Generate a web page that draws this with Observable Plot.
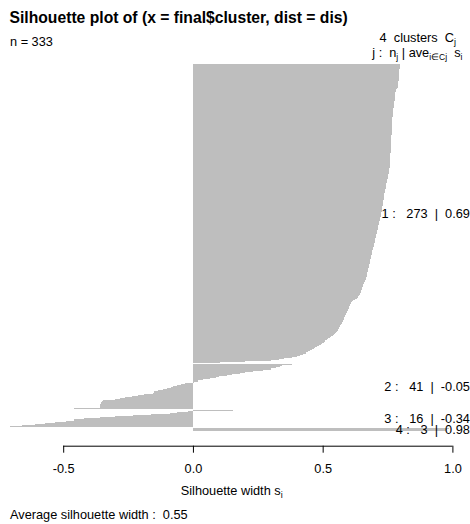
<!DOCTYPE html>
<html>
<head>
<meta charset="utf-8">
<script src="https://cdn.jsdelivr.net/npm/d3@7"></script>
<script src="https://cdn.jsdelivr.net/npm/@observablehq/plot@0.6"></script>
<style>
html, body { margin: 0; padding: 0; background: #fff; }
body { width: 470px; height: 524px; overflow: hidden; font-family: "Liberation Sans", Arial, sans-serif; color: #000; }
#chart figure { margin: 0; padding: 0; }
#chart svg { display: block; }
.ttl { margin: 0; height: 32px; box-sizing: border-box; padding: 3px 0 0 9.5px; font: bold 15.7px/29px "Liberation Sans", Arial, sans-serif; white-space: pre; }
.sub { margin: 0; height: 17px; box-sizing: border-box; padding: 1px 14px 0 10px; font: 12.75px/18px "Liberation Sans", Arial, sans-serif; display: flex; justify-content: space-between; white-space: pre; }
.sub .r { position: relative; top: -4px; }
.sub sub { font-size: 9px; line-height: 0; vertical-align: -3px; }
.cap { margin: 0; height: 24px; box-sizing: border-box; padding: 5px 0 0 10px; font: 12.75px/20px "Liberation Sans", Arial, sans-serif; white-space: pre; }
</style>
</head>
<body>
<div id="chart"></div>
<script>
// ---- data ----
const titleText = "Silhouette plot of (x = final$cluster, dist = dis)";
const clusterIds = [1, 2, 3, 4];
const clusterAvg = [0.69, -0.05, -0.34, 0.98];
const avgWidth = 0.55;
const xTicks = [-0.5, 0.0, 0.5, 1.0];

const sil1 = [
  0.799,0.798,0.798,0.797,0.797,0.796,0.796,0.796,0.795,0.795,0.795,0.794,0.794,0.793,0.793,0.793,0.792,0.792,0.791,0.791,0.790,
  0.789,0.786,0.784,0.782,0.781,0.780,0.780,0.779,0.779,0.778,0.778,0.777,0.777,0.776,0.776,0.775,0.775,0.774,0.774,0.773,0.773,0.772,0.772,0.771,0.771,
  0.770,0.770,0.770,0.769,0.769,0.769,0.769,0.768,0.768,0.768,0.768,0.767,0.767,0.767,0.767,0.766,0.766,0.766,0.766,0.765,0.765,0.765,0.765,0.764,
  0.764,0.764,0.764,0.763,0.763,0.763,0.763,0.762,0.762,0.762,0.762,0.761,0.761,0.761,0.761,0.761,0.760,0.760,0.760,0.760,0.760,0.760,
  0.759,0.758,0.758,0.757,0.756,0.755,0.755,0.754,0.753,0.752,
  0.752,0.751,0.750,0.749,0.749,0.748,0.747,0.746,0.746,0.745,
  0.744,0.743,0.742,0.741,0.740,0.739,0.738,0.737,0.737,0.736,
  0.735,0.735,0.734,0.733,0.733,0.732,0.731,0.731,0.730,0.730,0.729,
  0.728,0.727,0.726,0.725,0.725,0.724,0.723,0.722,0.721,0.720,
  0.719,0.718,0.717,0.716,0.715,0.714,0.713,0.712,0.711,0.710,
  0.709,0.708,0.707,0.706,0.705,0.704,0.703,0.702,0.701,0.700,
  0.699,0.698,0.697,0.696,0.695,0.694,0.693,0.692,0.691,0.690,
  0.689,0.688,0.687,0.686,0.685,0.684,
  0.683,0.682,0.681,0.680,0.679,0.678,0.677,0.676,0.675,0.674,
  0.673,0.672,0.671,0.670,0.669,0.668,0.667,0.666,0.664,0.662,
  0.660,0.658,0.656,0.655,0.653,0.652,0.650,0.649,0.648,0.646,
  0.644,0.642,0.640,0.637,0.633,0.625,0.615,0.612,0.610,0.608,
  0.606,0.604,0.602,0.600,0.599,0.597,0.595,0.593,0.591,0.589,
  0.587,0.585,0.583,0.581,0.580,0.578,0.576,0.573,0.570,0.567,0.565,0.563,0.562,
  0.560,0.556,0.552,0.548,0.543,0.538,0.533,0.528,0.522,0.516,
  0.510,0.504,0.498,0.492,0.486,0.479,0.472,0.465,0.458,
  0.452,0.445,0.436,0.425,0.412,0.400,0.380,0.350,0.330,0.300,0.200,0.105
];
const sil2 = [
  0.380,0.345,0.336,0.320,0.300,0.270,0.230,0.200,0.180,0.150,0.130,0.100,0.090,0.065,0.040,0.020,0.005,
  -0.030,-0.045,-0.060,-0.075,-0.085,-0.100,-0.115,-0.135,-0.150,-0.155,-0.190,-0.210,-0.235,-0.260,-0.280,-0.300,
  -0.345,-0.350,-0.355,-0.357,-0.358,-0.359,-0.360,-0.460
];
const sil3 = [0.155,-0.020,-0.060,-0.090,-0.160,-0.230,-0.300,-0.360,-0.420,-0.460,-0.490,-0.530,-0.570,-0.610,-0.660,-0.705];
const sil4 = [0.985,0.980,0.975];

const silByCluster = [sil1, sil2, sil3, sil4];

// ---- build bar table (R barplot: width 1, space 0.5 between clusters) ----
const bars = [];
const labels = [];
let pos = 0;
silByCluster.forEach((vals, k) => {
  if (k > 0) pos += 0.5;
  const start = pos;
  vals.forEach(s => { bars.push({cluster: clusterIds[k], s, y1: pos, y2: pos + 1}); pos += 1; });
  const nb = "\u00A0";
  labels.push({
    y: (start + pos) / 2,
    text: `${clusterIds[k]}${nb}:${nb}${nb}${nb}${vals.length}${nb}${nb}|${nb}${nb}${clusterAvg[k].toFixed(2)}`
  });
});
const total = pos;
const nTotal = bars.length;
const xMin = Math.min(0, d3.min(bars, d => d.s));
const yLo = -0.04 * total, yHi = 1.04 * total;

// ---- html pieces ----
const titleEl = document.createElement("div");
titleEl.className = "ttl";
titleEl.textContent = titleText;

const subEl = document.createElement("div");
subEl.className = "sub";
subEl.innerHTML = `<span>n = ${nTotal}</span><span class="r">${clusterIds.length}  clusters  C<sub>j</sub></span>`;

const capEl = document.createElement("div");
capEl.className = "cap";
capEl.textContent = `Average silhouette width :  ${avgWidth.toFixed(2)}`;

const FONT = "Liberation Sans, Arial, sans-serif";
const XLAB = "Silhouette width s";
const HDR = "j :  n";

const chart = Plot.plot({
  width: 470,
  height: 451,
  marginTop: 0,
  marginBottom: 54.3,
  marginLeft: 10,
  marginRight: 17.6,
  style: {fontFamily: FONT, fontSize: "12.75px", color: "#000", background: "#fff", overflow: "visible"},
  title: titleEl,
  subtitle: subEl,
  caption: capEl,
  x: {domain: [xMin, 1], axis: null},
  y: {domain: [yLo, yHi], reverse: true, axis: null},
  marks: [
    Plot.rect(bars, {x1: () => 0, x2: "s", y1: "y1", y2: "y2", fill: "#bebebe", shapeRendering: "crispEdges"}),
    Plot.ruleY([yHi], {x1: () => xTicks[0], x2: () => xTicks[xTicks.length - 1], stroke: "#000", strokeWidth: 1}),
    Plot.axisX({ticks: xTicks, tickSize: 7, tickPadding: 11, tickFormat: d => d.toFixed(1), label: null, stroke: "#000", fill: "#000", fontSize: 12.75}),
    Plot.text(labels, {x: () => 1, y: "y", text: "text", textAnchor: "end", dx: 17, fontSize: 12.75, fill: "#000"}),
    Plot.text([XLAB], {frameAnchor: "bottom", lineAnchor: "bottom", dy: 48.5, fontSize: 12.75, fill: "#000"}),
    Plot.text([HDR], {frameAnchor: "top-right", textAnchor: "end", lineAnchor: "bottom", dx: 9.6, dy: 7, fontSize: 12.75, fill: "#000"})
  ]
});

document.getElementById("chart").appendChild(chart);

// ---- rich text (subscripts) in SVG labels ----
function rich(textEl, parts, subSize, shift) {
  if (!textEl) return;
  textEl.textContent = "";
  const ns = "http://www.w3.org/2000/svg";
  let shifted = false;
  parts.forEach(([str, isSub]) => {
    const t = document.createElementNS(ns, "tspan");
    t.textContent = str.replace(/ /g, "\u00A0");
    if (isSub && !shifted) { t.setAttribute("dy", String(shift)); shifted = true; }
    else if (!isSub && shifted) { t.setAttribute("dy", String(-shift)); shifted = false; }
    if (isSub) t.setAttribute("font-size", String(subSize));
    textEl.appendChild(t);
  });
}
const svgText = Array.from(chart.querySelectorAll("svg text"));
const findText = s => svgText.find(t => t.textContent === s);
rich(findText(XLAB), [[XLAB, false], ["i", true]], 9, 3.5);
rich(findText(HDR), [[HDR, false], ["j", true], [" | ave", false], ["i\u2208Cj", true], ["  s", false], ["i", true]], 8.5, 3);
</script>
</body>
</html>
